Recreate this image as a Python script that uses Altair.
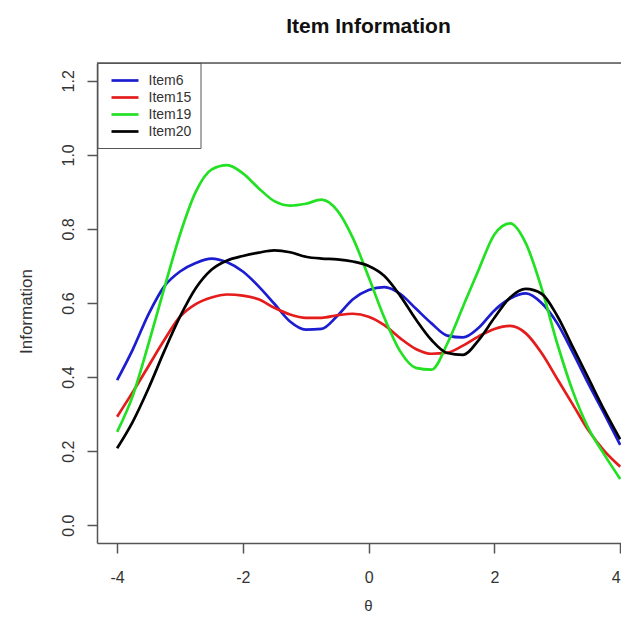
import altair as alt
import pandas as pd

THETA = [-4, -3.75, -3.5, -3.25, -3, -2.75, -2.5, -2.25, -2, -1.75, -1.5, -1.25,
         -1, -0.75, -0.5, -0.25, 0, 0.25, 0.5, 0.75, 1, 1.25, 1.5, 1.75,
         2, 2.25, 2.5, 2.75, 3, 3.25, 3.5, 3.75, 4]

ITEM6 = [0.392, 0.475, 0.57, 0.645, 0.685, 0.708, 0.72, 0.71, 0.685, 0.645, 0.598, 0.55,
         0.528, 0.53, 0.565, 0.61, 0.635, 0.643, 0.625, 0.585, 0.545, 0.512, 0.507, 0.533,
         0.58, 0.612, 0.626, 0.60, 0.545, 0.465, 0.38, 0.30, 0.217]
ITEM15 = [0.293, 0.36, 0.43, 0.50, 0.563, 0.597, 0.615, 0.623, 0.62, 0.61, 0.587, 0.569,
          0.56, 0.56, 0.567, 0.571, 0.563, 0.54, 0.505, 0.476, 0.463, 0.466, 0.485, 0.51,
          0.53, 0.538, 0.518, 0.465, 0.395, 0.325, 0.255, 0.20, 0.158]
ITEM19 = [0.252, 0.35, 0.49, 0.64, 0.785, 0.90, 0.96, 0.972, 0.95, 0.91, 0.875, 0.863,
          0.868, 0.879, 0.85, 0.775, 0.67, 0.56, 0.47, 0.425, 0.42, 0.49, 0.59, 0.69,
          0.785, 0.815, 0.761, 0.64, 0.49, 0.36, 0.26, 0.19, 0.125]
ITEM20 = [0.208, 0.28, 0.37, 0.47, 0.563, 0.64, 0.69, 0.715, 0.727, 0.736, 0.742, 0.737,
          0.725, 0.72, 0.718, 0.712, 0.70, 0.673, 0.62, 0.556, 0.50, 0.465, 0.46, 0.50,
          0.56, 0.615, 0.638, 0.625, 0.565, 0.48, 0.395, 0.31, 0.232]

ITEMS = ["Item6", "Item15", "Item19", "Item20"]
COLORS = ["#1c1cd0", "#e41c1c", "#22e022", "#000000"]
X_TICKS = [-4, -2, 0, 2, 4]
Y_TICKS = [0.0, 0.2, 0.4, 0.6, 0.8, 1.0, 1.2]

series = {"Item6": ITEM6, "Item15": ITEM15, "Item19": ITEM19, "Item20": ITEM20}
rows = []
for name in ITEMS:
    for t, v in zip(THETA, series[name]):
        rows.append({"theta": t, "info": v, "item": name})
df = pd.DataFrame(rows)

W, H = 524, 480
FONT = "Liberation Sans"
AX = "#555555"
TXT = "#333333"

lines = alt.Chart(df).mark_line(strokeWidth=2.7, interpolate="monotone", clip=True).encode(
    x=alt.X("theta:Q",
            scale=alt.Scale(domain=[-4.32, 4.013], nice=False, zero=False),
            axis=alt.Axis(values=X_TICKS, title="θ", grid=False, tickSize=10,
                          labelExpr="'' + datum.value",
                          labelAlign={"condition": {"test": "datum.value >= 4", "value": "right"},
                                      "value": "center"},
                          labelPadding=16, labelFontSize=16, titleFontSize=15,
                          titleX=271, titleY=62, titleBaseline="middle",
                          titleFontWeight="normal", domainColor=AX, tickColor=AX,
                          domainWidth=1.5, tickWidth=1.5, labelColor=TXT,
                          titleColor=TXT, labelFont=FONT, titleFont=FONT)),
    y=alt.Y("info:Q",
            scale=alt.Scale(domain=[-0.048, 1.248], nice=False, zero=False),
            axis=alt.Axis(values=Y_TICKS, format=".1f", title="Information", grid=False,
                          tickSize=10, labelAngle=270, labelAlign="center",
                          labelBaseline="alphabetic", labelPadding=14, labelFontSize=16,
                          titleFontSize=17, titleAngle=270, titleX=-71, titleY=248,
                          titleBaseline="middle", titleAlign="center",
                          titleFontWeight="normal", domainColor=AX, tickColor=AX,
                          domainWidth=1.5, tickWidth=1.5, labelColor=TXT,
                          titleColor=TXT, labelFont=FONT, titleFont=FONT)),
    color=alt.Color("item:N", sort=ITEMS,
                    scale=alt.Scale(domain=ITEMS, range=COLORS),
                    legend=alt.Legend(orient="none", legendX=0.5, legendY=0, title=None,
                                      symbolType="M-2,0L2,0", symbolSize=182,
                                      symbolStrokeWidth=2.7, labelFontSize=14,
                                      labelFont=FONT, labelColor=TXT,
                                      padding=9, rowPadding=1, symbolOffset=10,
                                      labelOffset=15, strokeColor=AX,
                                      fillColor="white", cornerRadius=0)),
)

top_border = alt.Chart(pd.DataFrame({"k": [0]})).mark_rule(color=AX, strokeWidth=1.5).encode(
    x=alt.value(0), x2=alt.value(W), y=alt.value(0)
)

chart = alt.layer(lines, top_border).properties(
    width=W, height=H,
    title=alt.TitleParams("Item Information", fontSize=21, font=FONT, fontWeight="bold",
                          color="#111111", anchor="middle", dx=9.5, offset=25),
    autosize=alt.AutoSizeParams(type="none"),
    padding={"left": 89, "top": 55, "right": 0, "bottom": 72},
).configure_view(stroke=None).configure(background="white")

chart.save("out.html", embed_options={"renderer": "svg", "actions": False})
